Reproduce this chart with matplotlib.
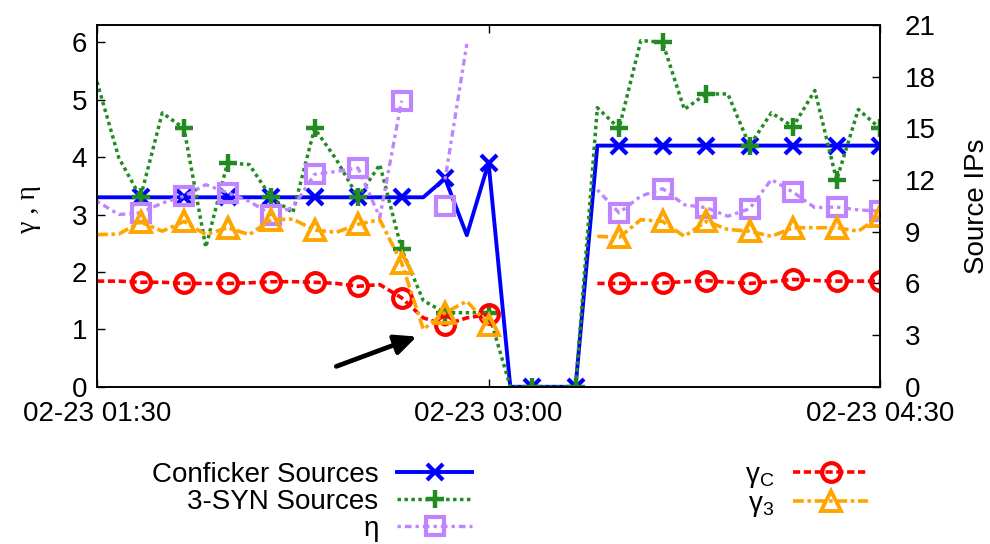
import numpy as np
import pandas as pd
import matplotlib
matplotlib.use("Agg")
import matplotlib.pyplot as plt
import matplotlib.dates as mdates
from matplotlib.lines import Line2D

nan = np.nan

# ---------------- data ----------------
times = pd.date_range("2009-02-23 01:30", "2009-02-23 04:30", freq="5min")
tick_times = pd.to_datetime(["2009-02-23 01:30", "2009-02-23 03:00", "2009-02-23 04:30"])

# right axis (Source IPs)
conficker = [11.0, 11.0, 11.0, 11.0, 11.0, 11.0, 11.0, 11.0, 11.0, 11.0,
             11.0, 11.0, 11.0, 11.0, 11.0, 11.0, 12.1, 8.8, 13.0, 0.0,
             0.0, 0.0, 0.0, 14.0, 14.0, 14.0, 14.0, 14.0, 14.0, 14.0,
             14.0, 14.0, 14.0, 14.0, 14.0, 14.0, 14.0]
syn3 = [17.7, 13.3, 11.0, 15.9, 15.0, 8.1, 13.0, 12.9, 11.0, 10.1,
        15.0, 13.2, 11.0, 12.9, 8.0, 5.0, 4.3, 4.3, 4.3, 0.0,
        0.0, 0.0, 0.0, 16.2, 15.0, 20.1, 20.0, 16.1, 17.0, 17.0,
        14.0, 15.9, 15.1, 17.2, 12.0, 16.1, 15.0]

# left axis (gamma, eta)
eta_line = [3.23, 3.0, 3.03, 3.2, 3.32, 3.52, 3.38, 3.23, 3.0, 3.12,
            3.7, 3.75, 3.81, 2.95, 4.98, nan, 3.61, 5.97, nan, nan,
            nan, nan, nan, 3.43, 3.03, 3.32, 3.45, 3.17, 3.12, 2.97,
            3.1, 3.61, 3.39, 3.12, 3.13, 3.08, 3.06]
eta_marks = [3.03, 3.32, 3.38, 3.0, 3.7, 3.81, 4.98, 3.14, nan, nan,
             nan, 3.03, 3.45, 3.12, 3.1, 3.39, 3.13, 3.06]
gamma_c = [1.84, 1.84, 1.82, 1.82, 1.80, 1.80, 1.80, 1.81, 1.83, 1.83,
           1.82, 1.80, 1.75, 1.78, 1.55, 1.2, 1.08, 1.2, 1.26, nan,
           nan, nan, nan, 1.8, 1.8, 1.8, 1.81, 1.83, 1.85, 1.82,
           1.8, 1.83, 1.87, 1.85, 1.84, 1.84, 1.84]
gamma_3 = [2.65, 2.66, 2.87, 2.71, 2.88, 2.65, 2.77, 2.65, 2.91, 2.92,
           2.73, 2.69, 2.83, 2.91, 2.16, 1.0, 1.29, 1.49, 1.08, nan,
           nan, nan, nan, 2.62, 2.6, 2.91, 2.88, 2.62, 2.88, 2.74,
           2.71, 2.62, 2.77, 2.77, 2.77, 2.71, 2.97]

labels = ["Conficker Sources", "3-SYN Sources", "η",
          r"$\mathregular{γ_C}$", r"$\mathregular{γ_3}$"]

arrow_tail = (pd.Timestamp("2009-02-23 02:25"), 0.355)
arrow_head = (pd.Timestamp("2009-02-23 02:43:30"), 0.875)

# ---------------- style ----------------
plt.rcParams["font.family"] = ["Liberation Sans", "DejaVu Sans"]
plt.rcParams["font.size"] = 20

C_BLUE = "#0000ff"
C_GREEN = "#228b22"
C_PURPLE = "#bf85ff"
C_RED = "#ff0000"
C_ORANGE = "#ffa500"

fig = plt.figure(figsize=(9.9, 5.44), dpi=100)
ax1 = fig.add_axes([0.098, 0.289, 0.791, 0.665])
ax2 = ax1.twinx()
ax1.set_zorder(ax2.get_zorder() + 1)
ax1.patch.set_visible(False)

mk = slice(2, None, 2)

hb, = ax2.plot(times, conficker, color=C_BLUE, lw=2.8, marker="x", ms=11,
               mew=3, markevery=mk)
hg, = ax2.plot(times, syn3, color=C_GREEN, lw=2.5, ls=(0, (1, 1)),
               marker="+", ms=13, mew=3.2, markevery=mk)

eta_ls = (0, (1, 1.2, 2, 1.2))
ax1.plot(times, eta_line, color=C_PURPLE, lw=2.4, ls=eta_ls)
ax1.plot(times[2::2], eta_marks, ls="none", marker="s", mfc="none",
         mec=C_PURPLE, ms=12.5, mew=3)
hp = Line2D([], [], color=C_PURPLE, lw=2.4, ls=eta_ls,
            marker="s", mfc="none", mec=C_PURPLE, ms=12.5, mew=3)
hr, = ax1.plot(times, gamma_c, color=C_RED, lw=2.6, ls=(0, (2, 1)),
               marker="o", mfc="none", ms=13.5, mew=3, markevery=mk)
ho, = ax1.plot(times, gamma_3, color=C_ORANGE, lw=2.6, ls=(0, (3, 1, 1, 1)),
               marker="^", mfc="none", ms=14, mew=2.8, markevery=mk)

ax1.annotate("", xy=arrow_head, xytext=arrow_tail,
             arrowprops=dict(arrowstyle="-|>,head_length=0.65,head_width=0.3",
                             lw=3.4, color="black", shrinkA=0, shrinkB=0,
                             mutation_scale=20))

# axes
ax1.set_xlim(times[0], times[-1])
ax1.set_xticks(tick_times)
ax1.xaxis.set_major_formatter(mdates.DateFormatter("%m-%d %H:%M"))
ax1.set_ylim(0, 6.3)
ax1.set_yticks(range(0, 7))
ax2.set_ylim(0, 21)
ax2.set_yticks(range(0, 22, 3))

ax1.tick_params(axis="x", direction="in", length=6, width=1, top=True, pad=10.5)
ax1.tick_params(axis="y", direction="in", length=6, width=1, right=False, pad=7)
ax2.tick_params(axis="y", direction="in", length=6, width=1, pad=18)
for ax in (ax1, ax2):
    for s in ax.spines.values():
        s.set_linewidth(1.2)

ax1.set_ylabel("γ , η", va="center", family=["Liberation Serif", "DejaVu Serif"])
ax1.yaxis.set_label_coords(-0.088, 0.49)
ax2.set_ylabel("Source IPs", va="center")
ax2.yaxis.set_label_coords(1.124, 0.5)

leg = fig.legend(handles=[hb, hg, hp, hr, ho], labels=labels, ncol=2,
                 loc="upper left", bbox_to_anchor=(0.1535, 0.151),
                 frameon=False, markerfirst=False, handlelength=2.7,
                 handletextpad=0.68, columnspacing=9.8, labelspacing=0.03,
                 borderpad=0, borderaxespad=0, fontsize=20)

fig.savefig("out.png", dpi=100)
